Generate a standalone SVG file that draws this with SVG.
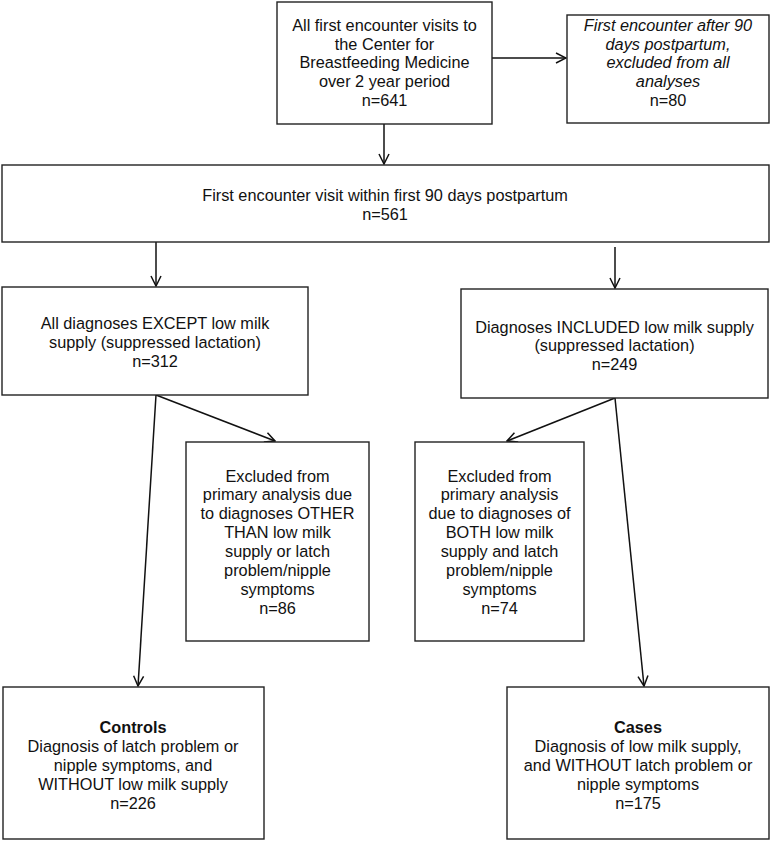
<svg xmlns="http://www.w3.org/2000/svg" width="771" height="841" viewBox="0 0 771 841">
<style>
.box{fill:#fff;stroke:#222;stroke-width:1.4}
.t{font-family:"Liberation Sans",Arial,sans-serif;font-size:16.3px;fill:#111;text-anchor:middle}
.i{font-style:italic}
.b{font-weight:bold}
.c{fill:none;stroke:#111;stroke-width:1.5}
</style>
<defs>
<marker id="ah" viewBox="0 0 12 12" refX="11" refY="6" markerWidth="12" markerHeight="12" markerUnits="userSpaceOnUse" orient="auto">
<path d="M1,1 L11,6 L1,11" fill="none" stroke="#111" stroke-width="1.5"/>
</marker>
</defs>
<g id="connectors">
<line class="c" x1="492" y1="58" x2="566" y2="58" marker-end="url(#ah)"/>
<line class="c" x1="384" y1="124" x2="384" y2="164" marker-end="url(#ah)"/>
<line class="c" x1="156" y1="242" x2="156" y2="286" marker-end="url(#ah)"/>
<line class="c" x1="615" y1="247" x2="615" y2="288" marker-end="url(#ah)"/>
<line class="c" x1="156" y1="395" x2="275" y2="441" marker-end="url(#ah)"/>
<line class="c" x1="156" y1="395" x2="138" y2="686" marker-end="url(#ah)"/>
<line class="c" x1="615" y1="398" x2="507" y2="441" marker-end="url(#ah)"/>
<line class="c" x1="615" y1="398" x2="644" y2="686" marker-end="url(#ah)"/>
</g>
<g id="n641">
<rect class="box" x="277" y="2" width="215" height="122"/>
<text class="t" x="384.5" y="30.8">All first encounter visits to</text>
<text class="t" x="384.5" y="49.6">the Center for</text>
<text class="t" x="384.5" y="68.4">Breastfeeding Medicine</text>
<text class="t" x="384.5" y="87.2">over 2 year period</text>
<text class="t" x="384.5" y="106">n=641</text>
</g>
<g id="n80">
<rect class="box" x="567" y="15" width="202" height="108"/>
<text class="t i" x="668" y="30.8">First encounter after 90</text>
<text class="t i" x="668" y="49.6">days postpartum,</text>
<text class="t i" x="668" y="68.4">excluded from all</text>
<text class="t i" x="668" y="87.2">analyses</text>
<text class="t" x="668" y="106">n=80</text>
</g>
<g id="n561">
<rect class="box" x="2" y="165" width="767" height="77"/>
<text class="t" x="385" y="201">First encounter visit within first 90 days postpartum</text>
<text class="t" x="385" y="219.5">n=561</text>
</g>
<g id="n312">
<rect class="box" x="2" y="287" width="306" height="108"/>
<text class="t" x="155" y="329">All diagnoses EXCEPT low milk</text>
<text class="t" x="155" y="348">supply (suppressed lactation)</text>
<text class="t" x="155" y="367">n=312</text>
</g>
<g id="n249">
<rect class="box" x="461" y="289" width="307" height="109"/>
<text class="t" x="614.5" y="332.5">Diagnoses INCLUDED low milk supply</text>
<text class="t" x="614.5" y="351">(suppressed lactation)</text>
<text class="t" x="614.5" y="369.5">n=249</text>
</g>
<g id="n86">
<rect class="box" x="186" y="442" width="183" height="199"/>
<text class="t" x="277.5" y="481.5">Excluded from</text>
<text class="t" x="277.5" y="500.4">primary analysis due</text>
<text class="t" x="277.5" y="519.3">to diagnoses OTHER</text>
<text class="t" x="277.5" y="538.2">THAN low milk</text>
<text class="t" x="277.5" y="557.1">supply or latch</text>
<text class="t" x="277.5" y="576">problem/nipple</text>
<text class="t" x="277.5" y="594.9">symptoms</text>
<text class="t" x="277.5" y="613.8">n=86</text>
</g>
<g id="n74">
<rect class="box" x="415" y="442" width="169" height="199"/>
<text class="t" x="499.5" y="481.5">Excluded from</text>
<text class="t" x="499.5" y="500.4">primary analysis</text>
<text class="t" x="499.5" y="519.3">due to diagnoses of</text>
<text class="t" x="499.5" y="538.2">BOTH low milk</text>
<text class="t" x="499.5" y="557.1">supply and latch</text>
<text class="t" x="499.5" y="576">problem/nipple</text>
<text class="t" x="499.5" y="594.9">symptoms</text>
<text class="t" x="499.5" y="613.8">n=74</text>
</g>
<g id="controls">
<rect class="box" x="3" y="687" width="261" height="152"/>
<text class="t b" x="133" y="732.5">Controls</text>
<text class="t" x="133" y="751.5">Diagnosis of latch problem or</text>
<text class="t" x="133" y="770.5">nipple symptoms, and</text>
<text class="t" x="133" y="789.5">WITHOUT low milk supply</text>
<text class="t" x="133" y="808.5">n=226</text>
</g>
<g id="cases">
<rect class="box" x="507" y="687" width="262" height="152"/>
<text class="t b" x="638" y="732.5">Cases</text>
<text class="t" x="638" y="751.5">Diagnosis of low milk supply,</text>
<text class="t" x="638" y="770.5">and WITHOUT latch problem or</text>
<text class="t" x="638" y="789.5">nipple symptoms</text>
<text class="t" x="638" y="808.5">n=175</text>
</g>
</svg>
